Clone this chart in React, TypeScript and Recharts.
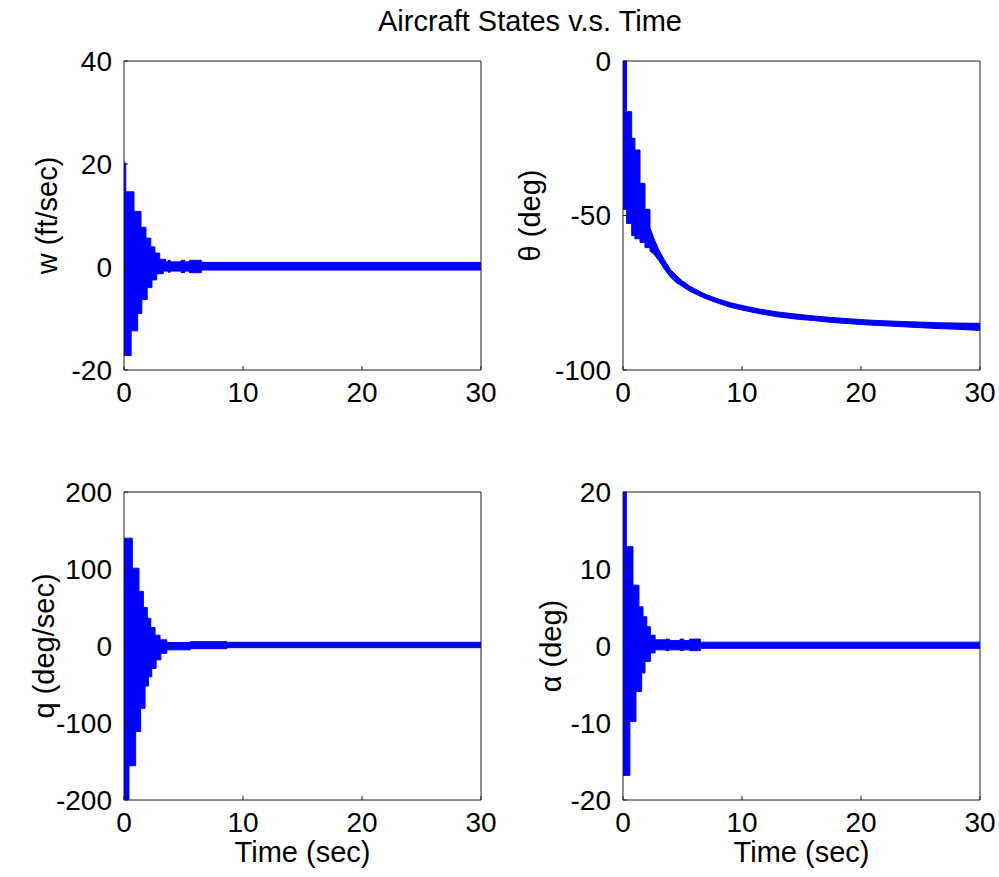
import React from 'react';
import { ComposedChart, Area, XAxis, YAxis, Label } from 'recharts';

const FONT = '"Liberation Sans", Arial, Helvetica, sans-serif';
const BLUE = '#0000ff';
const AXIS = '#1e1e1e';

const chartTitle = 'Aircraft States v.s. Time';
const xAxisTitle = 'Time (sec)';
const timeTicks = [0, 10, 20, 30];

// w (ft/sec) envelope (upper / lower) of the oscillating response
const wTime = [0, 0.15, 0.6, 0.84, 1.15, 1.43, 1.5, 1.85, 1.95, 2.25, 2.35, 2.6, 2.75, 3.0, 3.3, 3.5, 3.7, 3.9, 4.8, 5.1, 5.5, 6.5, 30];
const wUpper = [20.2, 14.6, 14.6, 10.8, 10.8, 7.7, 7.7, 5.6, 5.6, 3.9, 3.9, 2.7, 2.7, 1.5, 1.5, 1.0, 1.3, 1.0, 1.3, 1.0, 1.3, 0.9, 0.9];
const wLower = [-17.2, -17.2, -12.4, -12.4, -9.0, -9.0, -6.3, -6.3, -4.0, -4.0, -2.5, -2.5, -1.3, -1.3, -0.8, -0.8, -1.0, -0.8, -1.1, -0.8, -1.1, -0.6, -0.6];
const wTicks = [-20, 0, 20, 40];

// theta (deg) - early steps encoded with repeated times, then smooth decay
const thTime = [0, 0.3, 0.3, 0.73, 0.73, 1.0, 1.0, 1.43, 1.43, 1.85, 1.85, 2.27, 2.27, 2.6, 3.0, 3.5, 4.0, 4.5, 5.0, 5.6, 6.3, 7.0, 8.0, 9.0, 10.0, 11.5, 13, 14.5, 16, 17.5, 19, 20.5, 22, 23.5, 25, 26.5, 28, 30];
const thUpper = [0, 0, -16.4, -16.4, -25, -25, -28.8, -28.8, -39.6, -39.6, -48, -48, -54, -57.5, -61, -64.5, -67.5, -69.5, -71.2, -72.8, -74.3, -75.6, -77, -78.2, -79.1, -80.3, -81.2, -81.9, -82.5, -83, -83.4, -83.8, -84.1, -84.3, -84.5, -84.7, -84.8, -84.9];
const thLower = [-48, -48, -52.6, -52.6, -56.5, -56.5, -57.5, -57.5, -58.7, -58.7, -60.4, -60.4, -61.5, -62.5, -64.5, -67.5, -70, -71.8, -73, -74.5, -75.8, -77, -78.4, -79.7, -80.6, -81.8, -82.8, -83.5, -84, -84.6, -85, -85.4, -85.7, -86, -86.3, -86.6, -86.8, -87.2];
const thTicks = [-100, -50, 0];

// q (deg/sec)
const qTime = [0, 0.42, 0.7, 0.98, 1.26, 1.4, 1.63, 1.77, 1.96, 2.05, 2.25, 2.33, 2.61, 2.7, 3.03, 3.1, 3.6, 5.56, 8.65, 30];
const qUpper = [140, 140, 101, 101, 71, 71, 50, 50, 36, 36, 24, 24, 14, 14, 8, 8, 4.5, 5.6, 4.8, 4.8];
const qLower = [-200, -155.5, -155.5, -111, -111, -81, -81, -52, -52, -40, -40, -29, -29, -18, -18, -9.5, -5, -3.5, -2.2, -2.2];
const qTicks = [-200, -100, 0, 100, 200];

// alpha (deg)
const aTime = [0, 0.28, 0.58, 0.84, 1.09, 1.34, 1.57, 1.68, 1.85, 2.0, 2.3, 2.7, 3.6, 3.9, 4.8, 5.1, 5.6, 6.5, 30];
const aUpper = [20, 12.9, 12.9, 7.9, 7.9, 5.1, 5.1, 3.8, 3.8, 2.5, 1.4, 0.8, 0.9, 0.7, 0.9, 0.7, 0.9, 0.5, 0.5];
const aLower = [-16.8, -16.8, -9.8, -9.8, -5.9, -5.9, -3.5, -3.5, -2.0, -2.0, -0.9, -0.5, -0.6, -0.5, -0.6, -0.5, -0.6, -0.3, -0.3];
const aTicks = [-20, -10, 0, 10, 20];

function build(time: number[], upper: number[], lower: number[]) {
  return time.map((t, i) => ({ t, band: [lower[i], upper[i]] }));
}

const tickStyle = { fill: '#000', fontSize: 28, fontFamily: FONT };

type PanelProps = {
  left: number; top: number; width: number; height: number;
  marginTop: number; marginRight: number; yAxisWidth: number; xAxisHeight: number;
  data: { t: number; band: number[] }[];
  yDomain: [number, number]; yTicks: number[];
  yLabel: string; yLabelOffset: number; xLabel?: string;
  curve: 'stepAfter' | 'linear';
};

function Panel(p: PanelProps) {
  const yLabelContent = (props: any) => {
    const vb = props.viewBox || {};
    const x = (vb.x || 0) + p.yLabelOffset;
    const y = (vb.y || 0) + (vb.height || 0) / 2;
    return (
      <text x={x} y={y} transform={`rotate(-90, ${x}, ${y})`} textAnchor="middle" dominantBaseline="central"
        fill="#000" fontSize={29} fontFamily={FONT}>{p.yLabel}</text>
    );
  };
  const xLabelContent = (props: any) => {
    const vb = props.viewBox || {};
    const x = (vb.x || 0) + (vb.width || 0) / 2;
    const y = (vb.y || 0) + 62;
    return (
      <text x={x} y={y} textAnchor="middle" fill="#000" fontSize={29} fontFamily={FONT}>{p.xLabel}</text>
    );
  };
  return (
    <div style={{ position: 'absolute', left: p.left, top: p.top, width: p.width, height: p.height }}>
      <ComposedChart width={p.width} height={p.height} data={p.data}
        margin={{ top: p.marginTop, right: p.marginRight, bottom: 0, left: 0 }}>
        <XAxis xAxisId="b" dataKey="t" type="number" domain={[0, 30]} ticks={timeTicks} interval={0}
          allowDataOverflow height={p.xAxisHeight} tickSize={-4} tickMargin={16}
          axisLine={{ stroke: AXIS }} tickLine={{ stroke: AXIS }} tick={tickStyle}>
          {p.xLabel ? <Label content={xLabelContent} /> : null}
        </XAxis>
        <XAxis xAxisId="t" orientation="top" dataKey="t" type="number" domain={[0, 30]} ticks={timeTicks}
          interval={0} allowDataOverflow height={1} tickSize={-4} tick={false}
          axisLine={{ stroke: AXIS }} tickLine={{ stroke: AXIS }} />
        <YAxis yAxisId="l" type="number" domain={p.yDomain} ticks={p.yTicks} interval={0} allowDataOverflow
          width={p.yAxisWidth} tickSize={-4} tickMargin={16}
          axisLine={{ stroke: AXIS }} tickLine={{ stroke: AXIS }} tick={tickStyle}>
          <Label content={yLabelContent} />
        </YAxis>
        <YAxis yAxisId="r" orientation="right" type="number" domain={p.yDomain} ticks={p.yTicks} interval={0}
          allowDataOverflow width={1} tickSize={-4} tick={false}
          axisLine={{ stroke: AXIS }} tickLine={{ stroke: AXIS }} />
        <Area xAxisId="b" yAxisId="l" dataKey="band" type={p.curve} stroke={BLUE} strokeWidth={1}
          fill={BLUE} fillOpacity={1} dot={false} activeDot={false} isAnimationActive={false} />
      </ComposedChart>
    </div>
  );
}

export default function App() {
  return (
    <div style={{ position: 'absolute', left: 0, top: 0, width: 999, height: 877, background: '#fff', overflow: 'hidden' }}>
      <svg width={999} height={50} style={{ position: 'absolute', left: 0, top: 0 }}>
        <text x={530} y={31} textAnchor="middle" fill="#000" fontSize={29} fontFamily={FONT}>{chartTitle}</text>
      </svg>
      <Panel left={0} top={40} width={520} height={380} marginTop={20} marginRight={38} yAxisWidth={124} xAxisHeight={50}
        data={build(wTime, wUpper, wLower)} yDomain={[-20, 40]} yTicks={wTicks}
        yLabel="w (ft/sec)" yLabelOffset={47} curve="stepAfter" />
      <Panel left={500} top={40} width={499} height={380} marginTop={20} marginRight={18} yAxisWidth={123} xAxisHeight={50}
        data={build(thTime, thUpper, thLower)} yDomain={[-100, 0]} yTicks={thTicks}
        yLabel="θ (deg)" yLabelOffset={30} curve="linear" />
      <Panel left={0} top={470} width={520} height={405} marginTop={21} marginRight={38} yAxisWidth={124} xAxisHeight={75}
        data={build(qTime, qUpper, qLower)} yDomain={[-200, 200]} yTicks={qTicks}
        yLabel="q (deg/sec)" yLabelOffset={44} xLabel={xAxisTitle} curve="stepAfter" />
      <Panel left={500} top={470} width={499} height={405} marginTop={21} marginRight={18} yAxisWidth={123} xAxisHeight={75}
        data={build(aTime, aUpper, aLower)} yDomain={[-20, 20]} yTicks={aTicks}
        yLabel="α (deg)" yLabelOffset={51} xLabel={xAxisTitle} curve="stepAfter" />
    </div>
  );
}
